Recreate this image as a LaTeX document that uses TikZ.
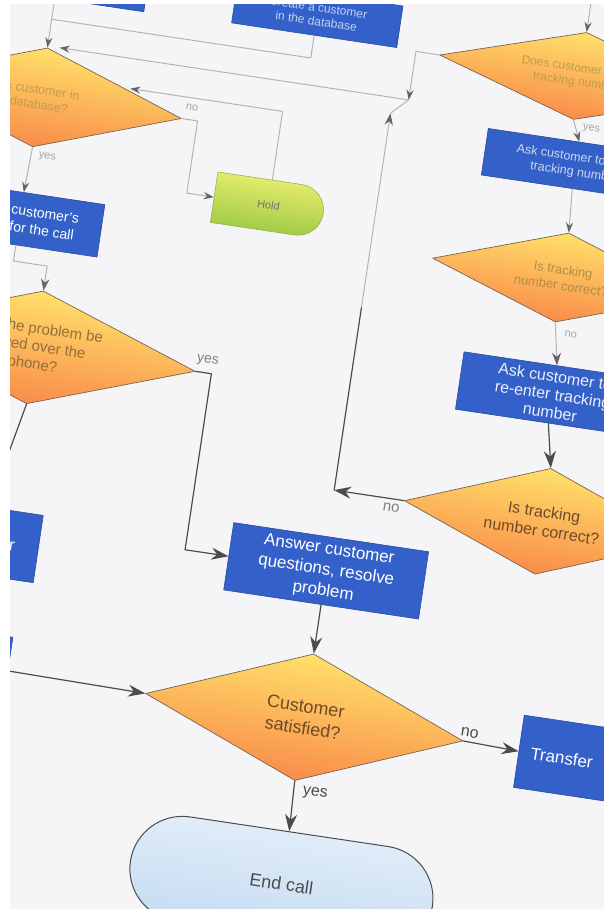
\documentclass[tikz,border=0pt]{standalone}
\usepackage{fontspec}
\setmainfont{Liberation Sans}
\usetikzlibrary{shapes.geometric,shapes.misc,arrows.meta}
\definecolor{paper}{HTML}{F5F5F8}
\definecolor{boxblue}{HTML}{3461C9}
\definecolor{boxedge}{HTML}{2A4C9E}
\definecolor{ylw}{HTML}{FFE06A}
\definecolor{org}{HTML}{F98C4A}
\definecolor{qtext}{HTML}{6E4A2A}
\definecolor{qedge}{HTML}{7A6450}
\definecolor{endtop}{HTML}{E0ECF8}
\definecolor{endbot}{HTML}{C6DCF2}
\definecolor{holdtop}{HTML}{E2EA6A}
\definecolor{holdbot}{HTML}{A3CC48}
\definecolor{linecol}{HTML}{4C4C4C}
\definecolor{farcol}{HTML}{B4B4B8}
\begin{document}
\begin{tikzpicture}[x=1pt,y=-1pt,line join=round,line cap=round,
  fs/.style 2 args={font=\fontsize{#1}{#2}\selectfont},
  proc/.style={rectangle,fill=boxblue,draw=boxedge,line width=0.6pt,text=white,align=center,inner sep=2pt},
  quest/.style={diamond,aspect=2.5,top color=ylw,bottom color=org,draw=qedge,line width=0.7pt,text=qtext,align=center,inner sep=0pt},
  term/.style={rounded rectangle,top color=endtop,bottom color=endbot,draw=linecol,line width=1pt,text=black!70},
  holdbox/.style={rounded rectangle,rounded rectangle left arc=none,top color=holdtop,bottom color=holdbot,draw=holdbot!85!black,line width=0.5pt,text=black!55},
  conn/.style={draw=linecol,line width=1.2pt},
  fconn/.style={draw=farcol,line width=1pt},
  arr/.style={-{Stealth[length=17pt,width=12pt,scale=#1]}},arr/.default=1,
  farr/.style={-{Stealth[length=17pt,width=12pt,scale=#1,color=black!60]}},farr/.default=0.6,
  lbl/.style={text=black!70,fs={16}{16}},
  flbl/.style={text=black!35,fs={11}{11}}]
\useasboundingbox (0,0) rectangle (604,911);
\fill[white] (0,0) rectangle (604,911);
\clip (10,4) rectangle (604,908);
\fill[paper] (0,0) rectangle (604,911);
\begin{scope}[transform canvas={rotate around={-8.5:(302,455)}}]
\node[proc,minimum width=180,minimum height=50] (tlb) at (-10,15) {};
\node[proc,minimum width=167,minimum height=42,fs={12}{14},text=white!70!boxblue] (tcb) at (252,17) {Create a customer\\in the database};
\node[quest,minimum width=286,minimum height=100,fs={12.5}{15},text=qtext!45!ylw] (uld) at (-10,140) {Is customer in\\database?};
\node[holdbox,minimum width=117,minimum height=51,fs={11}{13}] (hold) at (232,213) {Hold};
\node[proc,minimum width=164,minimum height=53,fs={14}{17}] (cbox) at (-12,263) {Identify customer's\\reason for the call};
\node[quest,minimum width=324,minimum height=114,fs={15}{18},text=qtext!75!ylw] (lcd) at (22,388) {Can the problem be\\solved over the\\phone?};
\node[proc,minimum width=110,minimum height=68,fs={17}{20}] (ltr) at (0,587) {Transfer};
\node[proc,minimum width=110,minimum height=68] (lbox) at (-12,712) {};
\node[proc,minimum width=197,minimum height=68,fs={17}{21}] (ans) at (343,566) {Answer customer\\questions, resolve\\problem};
\node[quest,minimum width=321,minimum height=128,fs={18}{22}] (sat) at (343,714) {Customer\\satisfied?};
\node[term,minimum width=312,minimum height=105,fs={18}{20}] (endc) at (345,882) {End call};
\node[proc,anchor=west,minimum height=73,text width=116pt,inner xsep=12pt,align=left,fs={17}{20}] (tra) at (560,716) {Transfer};
\node[quest,minimum width=284,minimum height=88,fs={12}{14},text=qtext!45!ylw] (trd) at (521,39) {Does customer have a\\tracking number?};
\node[proc,minimum width=184,minimum height=47,fs={12.5}{15},text=white!75!boxblue] (ask1) at (530,128) {Ask customer to enter\\tracking number};
\node[quest,minimum width=262,minimum height=90,fs={13}{16},text=qtext!55!ylw] (tnc1) at (533,241) {Is tracking\\number correct?};
\node[proc,minimum width=188,minimum height=58,fs={16}{18},text=white!90!boxblue] (ask2) at (541,358) {Ask customer to\\re-enter tracking\\number};
\node[quest,minimum width=280,minimum height=107,fs={16}{19}] (tnc2) at (550,485) {Is tracking\\number correct?};
\coordinate (trtop) at (521,-40);
\coordinate (rj) at (355,88);
\coordinate (ulin) at (2,88);
\coordinate (tj) at (-10,61);
\coordinate (uin) at (78,118);
\coordinate (nb) at (339,485);
\coordinate (ml) at (339,300);
\coordinate (nt) at (339,104);
\draw[conn,arr] (ans.south) -- (sat.north);
\draw[conn,arr] (sat.south) -- (endc.north);
\draw[conn,arr] (sat.east) -- (tra.west);
\draw[conn,arr] (lbox.east) -- (sat.west);
\draw[conn,arr] (lcd.east) -- ++(16,0) |- (ans.west);
\draw[conn,arr] (lcd.south) -- (ltr.north);
\draw[conn,arr] (ask2.south) -- (tnc2.north);
\draw[conn,arr] (tnc2.west) -- (nb);
\draw[conn] (nb) -- (ml);
\draw[fconn,farr=0.7] (ml) -- (nt);
\draw[fconn] (nt) -- (rj);
\draw[fconn,farr=0.75] (tnc1.south) -- (ask2.north);
\draw[fconn,farr] (ask1.south) -- (tnc1.north);
\draw[fconn,farr] (trd.south) -- (ask1.north);
\draw[fconn,farr] (trtop) -- (trd.north);
\draw[fconn,farr] (trd.west) -| (rj);
\draw[fconn,farr] (rj) -- (ulin);
\draw[fconn,farr] (tlb.south) -- (uld.north);
\draw[fconn] (tcb.south) |- (tj);
\draw[fconn,farr] (uld.east) -- ++(16,0) |- (hold.west);
\draw[fconn,farr] (hold.north) |- (uin);
\draw[fconn,farr] (uld.south) -- (cbox.north);
\draw[fconn,farr=0.7] (cbox.south) -- ++(0,16) -| (lcd.north);
\node[lbl] (lyes1) at (365,788) {yes};
\node[lbl] (lno1) at (509,705) {no};
\node[lbl,text=black!50,fs={15}{15}] (lno2) at (398,494) {no};
\node[lbl,text=black!50,fs={14}{14}] (lyes2) at (195,376) {yes};
\node[flbl] (lno3) at (550,296) {no};
\node[flbl] (lyes3) at (6,198) {yes};
\node[flbl] (lno4) at (142,128) {no};
\node[flbl] (lyes4) at (540,90) {yes};
\end{scope}
\end{tikzpicture}
\end{document}
